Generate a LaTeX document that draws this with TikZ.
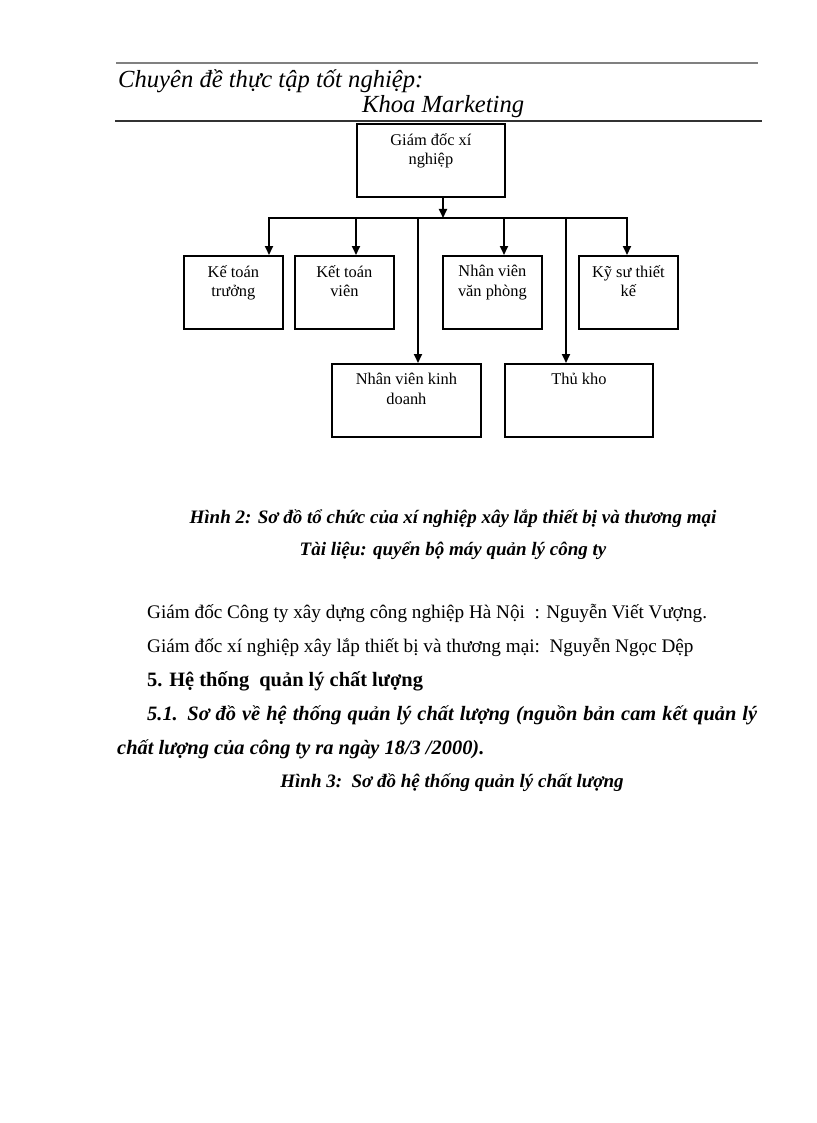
\documentclass[tikz,border=0pt]{standalone}
\usepackage{fontspec}
\setmainfont{Liberation Serif}
\usetikzlibrary{arrows.meta}
\begin{document}
\begin{tikzpicture}[x=1pt,y=-1pt,
  box/.style={draw, line width=1.8pt, rectangle, inner sep=0pt, anchor=north west},
  boxtext/.style={anchor=north, align=center, font=\fontsize{16.4}{19.5}\selectfont, inner sep=0pt},
  conn/.style={line width=1.8pt},
  arr/.style={conn, -{Triangle[length=9pt,width=8pt]}},
  body/.style={anchor=base west, inner sep=0pt, font=\fontsize{19.2}{21}\selectfont},
  capt/.style={anchor=base, inner sep=0pt, font=\fontsize{19}{21}\selectfont\bfseries\itshape},
  head/.style={anchor=base west, inner sep=0pt, font=\fontsize{24.6}{27}\selectfont\itshape}]
\useasboundingbox (0,0) rectangle (816,1123);
% header
\draw[gray, line width=1.5pt] (116,63) -- (758,63);
\node[head] (h1) at (118,88) {Chuyên đề thực tập tốt nghiệp:};
\node[head] (h2) at (362,113) {Khoa Marketing};
\draw[black!80, line width=2pt] (115,121.5) -- (762,121.5);
% boxes
\node[box, minimum width=148pt, minimum height=73pt] (gd) at (356,123) {};
\node[boxtext] (tgd) at ([yshift=-10pt]gd.north) {Giám đốc xí\\nghiệp};
\node[box, minimum width=99pt, minimum height=73pt] (kt) at (183,255) {};
\node[boxtext] (tkt) at ([yshift=-10pt]kt.north) {Kế toán\\trưởng};
\node[box, minimum width=99pt, minimum height=73pt] (ktv) at (294,255) {};
\node[boxtext] (tktv) at ([yshift=-10pt]ktv.north) {Kết toán\\viên};
\node[box, minimum width=99pt, minimum height=73pt] (nvvp) at (442,255) {};
\node[boxtext] (tnvvp) at ([yshift=-10pt]nvvp.north) {Nhân viên\\văn phòng};
\node[box, minimum width=99pt, minimum height=73pt] (ks) at (578,255) {};
\node[boxtext] (tks) at ([yshift=-10pt]ks.north) {Kỹ sư thiết\\kế};
\node[box, minimum width=149pt, minimum height=73pt] (nvkd) at (331,363) {};
\node[boxtext] (tnvkd) at ([yshift=-10pt]nvkd.north) {Nhân viên kinh\\doanh};
\node[box, minimum width=148pt, minimum height=73pt] (tk) at (504,363) {};
\node[boxtext] (ttk) at ([yshift=-10pt]tk.north) {Thủ kho};
% connectors
\coordinate (busL) at (269,218);
\coordinate (busR) at (627,218);
\draw[arr] (gd.south -| 443,0) -- (443,218);
\draw[conn] ([xshift=-0.9pt]busL) -- ([xshift=0.9pt]busR);
\draw[arr] (busL) -- (kt.north -| busL);
\draw[arr] (356,218) -- (ktv.north -| 356,0);
\draw[arr] (504,218) -- (nvvp.north -| 504,0);
\draw[arr] (busR) -- (ks.north -| busR);
\draw[arr] (418,218) -- (nvkd.north -| 418,0);
\draw[arr] (566,218) -- (tk.north -| 566,0);
% captions
\node[capt] (c1) at (453,523) {Hình 2: Sơ đồ tổ chức của xí nghiệp xây lắp thiết bị và thương mại};
\node[capt] (c2) at (453,555) {Tài liệu: quyển bộ máy quản lý công ty};
\node[body] (b1) at (147,618) {Giám đốc Công ty xây dựng công nghiệp Hà Nội\ \ : Nguyễn Viết Vượng.};
\node[body] (b2) at (147,652) {Giám đốc xí nghiệp xây lắp thiết bị và thương mại:\ \ Nguyễn Ngọc Dệp};
\node[body, font=\fontsize{20.4}{22}\selectfont\bfseries] (b3) at (147,686) {5. Hệ thống\ \ quản lý chất lượng};
\node[body, font=\fontsize{20.4}{22}\selectfont\bfseries\itshape] (b4) at (147,720) {\makebox[610pt][s]{5.1. Sơ đồ về hệ thống quản lý chất lượng (nguồn bản cam kết quản lý}};
\node[body, font=\fontsize{20.4}{22}\selectfont\bfseries\itshape] (b5) at (117,754) {chất lượng của công ty ra ngày 18/3 /2000).};
\node[capt] (c3) at (452,787) {Hình 3:\ \ Sơ đồ hệ thống quản lý chất lượng};
\end{tikzpicture}
\end{document}
